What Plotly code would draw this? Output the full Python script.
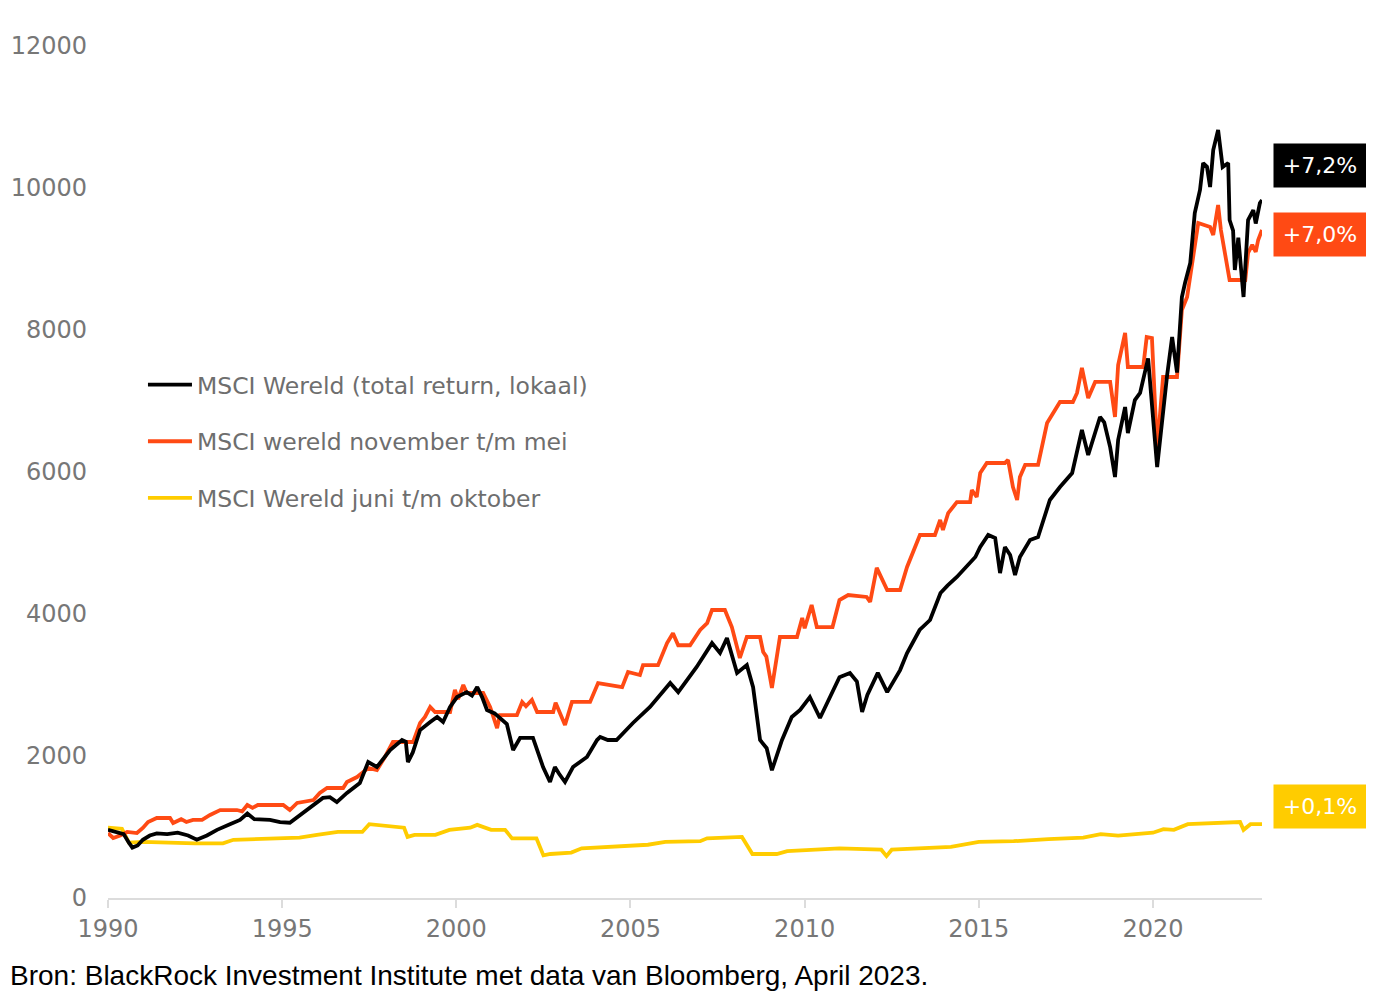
import plotly.graph_objects as go

# ---------------- data ----------------
black_x = [1990.00, 1990.30, 1990.45, 1990.60, 1990.70, 1990.85, 1991.00, 1991.20, 1991.40, 1991.70,
           1992.00, 1992.30, 1992.55, 1992.84, 1993.13, 1993.50, 1993.79, 1994.00, 1994.20, 1994.65,
           1994.94, 1995.22, 1995.60, 1996.00, 1996.17, 1996.37, 1996.57, 1996.86, 1997.23, 1997.47,
           1997.72, 1998.10, 1998.44, 1998.55, 1998.61, 1998.75, 1998.96, 1999.25, 1999.45, 1999.62,
           1999.82, 2000.02, 2000.30, 2000.45, 2000.60, 2000.74, 2000.88, 2001.10, 2001.25, 2001.45,
           2001.63, 2001.83, 2002.20, 2002.49, 2002.69, 2002.83, 2002.95, 2003.12, 2003.35, 2003.75,
           2004.04, 2004.13, 2004.35, 2004.60, 2005.07, 2005.56, 2006.14, 2006.37, 2006.90, 2007.34,
           2007.57, 2007.77, 2008.06, 2008.34, 2008.52, 2008.72, 2008.91, 2009.06, 2009.35, 2009.63,
           2009.87, 2010.15, 2010.44, 2010.73, 2011.00, 2011.30, 2011.50, 2011.65, 2011.80, 2012.10,
           2012.37, 2012.74, 2012.94, 2013.30, 2013.60, 2013.90, 2014.10, 2014.37, 2014.75, 2014.90,
           2015.04, 2015.27, 2015.47, 2015.61, 2015.75, 2015.90, 2016.04, 2016.18, 2016.47, 2016.70,
           2017.04, 2017.33, 2017.68, 2017.82, 2017.96, 2018.14, 2018.48, 2018.60, 2018.77, 2018.91,
           2019.00, 2019.20, 2019.28, 2019.48, 2019.63, 2019.86, 2020.12, 2020.40, 2020.55, 2020.69,
           2020.83, 2020.92, 2021.07, 2021.20, 2021.35, 2021.44, 2021.55, 2021.64, 2021.73, 2021.87,
           2022.00, 2022.16, 2022.20, 2022.30, 2022.35, 2022.45, 2022.60, 2022.73, 2022.88, 2022.95,
           2023.07, 2023.13]
black_y = [960, 920, 900, 780, 710, 740, 820, 880, 910, 900,
           920, 880, 820, 880, 960, 1040, 1100, 1190, 1110, 1100,
           1070, 1060, 1200, 1340, 1410, 1420, 1350, 1480, 1620, 1915,
           1845, 2085, 2225, 2200, 1915, 2050, 2366, 2479, 2550, 2479,
           2690, 2830, 2900, 2850, 2972, 2830, 2648, 2600, 2535, 2450,
           2085, 2254, 2254, 1845, 1634, 1845, 1750, 1634, 1845, 1986,
           2225, 2268, 2225, 2225, 2465, 2690, 3028, 2900, 3254, 3590,
           3450, 3660, 3170, 3280, 2970, 2225, 2110, 1800, 2225, 2550,
           2650, 2830, 2535, 2830, 3110, 3170, 3050, 2620, 2860, 3170,
           2900, 3210, 3450, 3775, 3915, 4295, 4400, 4521, 4718, 4803,
           4944, 5113, 5070, 4577, 4944, 4831, 4549, 4803, 5042, 5084,
           5606, 5789, 5986, 6282, 6592, 6239, 6775, 6700, 6352, 5930,
           6451, 6915, 6549, 7014, 7113, 7600, 6070, 7338, 7901, 7400,
           8465, 8662, 8944, 9648, 9972, 10352, 10300, 10014, 10535, 10817,
           10296, 10352, 9549, 9400, 8845, 9300, 8465, 9549, 9690, 9500,
           9789, 9831]

orange_x = [1990.00, 1990.15, 1990.35, 1990.55, 1990.83, 1991.00, 1991.15, 1991.40, 1991.78, 1991.87,
            1992.10, 1992.25, 1992.44, 1992.70, 1992.93, 1993.22, 1993.70, 1993.85, 1994.00, 1994.15,
            1994.30, 1995.03, 1995.22, 1995.43, 1995.90, 1996.08, 1996.29, 1996.75, 1996.86, 1997.15,
            1997.47, 1997.72, 1997.95, 1998.18, 1998.76, 1998.96, 1999.10, 1999.25, 1999.39, 1999.82,
            1999.96, 2000.05, 2000.20, 2000.30, 2000.77, 2000.97, 2001.17, 2001.25, 2001.74, 2001.89,
            2002.00, 2002.17, 2002.32, 2002.78, 2002.85, 2003.12, 2003.32, 2003.84, 2004.07, 2004.76,
            2004.93, 2005.27, 2005.36, 2005.79, 2006.05, 2006.22, 2006.37, 2006.71, 2007.00, 2007.20,
            2007.34, 2007.71, 2007.91, 2008.14, 2008.34, 2008.72, 2008.81, 2008.90, 2009.06, 2009.29,
            2009.78, 2009.93, 2010.00, 2010.20, 2010.35, 2010.80, 2011.00, 2011.25, 2011.78, 2011.88,
            2012.07, 2012.20, 2012.37, 2012.74, 2012.94, 2013.31, 2013.74, 2013.89, 2013.97, 2014.12,
            2014.37, 2014.75, 2014.80, 2014.94, 2015.04, 2015.23, 2015.75, 2015.84, 2015.98, 2016.10,
            2016.18, 2016.33, 2016.70, 2016.96, 2017.33, 2017.70, 2017.82, 2017.96, 2018.14, 2018.34,
            2018.77, 2018.91, 2019.00, 2019.20, 2019.28, 2019.72, 2019.82, 2019.97, 2020.12, 2020.29,
            2020.69, 2020.83, 2020.98, 2021.30, 2021.64, 2021.73, 2021.87, 2021.95, 2022.07, 2022.20,
            2022.65, 2022.73, 2022.85, 2022.95, 2023.02, 2023.13]
orange_y = [915, 845, 880, 930, 915, 986, 1070, 1127, 1127, 1056,
            1110, 1070, 1099, 1099, 1169, 1239, 1239, 1220, 1310, 1270,
            1310, 1310, 1239, 1338, 1380, 1479, 1549, 1549, 1634, 1704,
            1831, 1803, 1986, 2197, 2197, 2465, 2550, 2690, 2620, 2620,
            2930, 2800, 3000, 2887, 2887, 2690, 2394, 2577, 2577, 2761,
            2700, 2789, 2620, 2620, 2750, 2437, 2761, 2761, 3028, 2970,
            3183, 3140, 3280, 3280, 3590, 3730, 3560, 3560, 3775, 3870,
            4056, 4056, 3816, 3380, 3676, 3676, 3465, 3400, 2958, 3676,
            3676, 3944, 3800, 4127, 3816, 3816, 4197, 4267, 4240, 4169,
            4650, 4500, 4338, 4338, 4662, 5113, 5113, 5324, 5183, 5420,
            5577, 5577, 5746, 5648, 5986, 6127, 6127, 6169, 5789, 5606,
            5930, 6099, 6099, 6690, 6986, 6986, 7113, 7465, 7042, 7268,
            7268, 6775, 7507, 7958, 7479, 7479, 7901, 7887, 6310, 7338,
            7338, 8282, 8465, 9507, 9451, 9338, 9761, 9408, 9085, 8704,
            8704, 9085, 9200, 9100, 9268, 9408]

yellow_x = [1990.00, 1990.40, 1990.60, 1991.00, 1992.50, 1993.30, 1993.60, 1994.50, 1995.50, 1996.00,
            1996.60, 1997.30, 1997.50, 1998.50, 1998.60, 1998.80, 1999.40, 1999.80, 2000.40, 2000.60,
            2001.00, 2001.40, 2001.60, 2002.30, 2002.50, 2002.70, 2003.30, 2003.60, 2004.50, 2005.50,
            2006.00, 2007.00, 2007.20, 2008.20, 2008.50, 2009.20, 2009.50, 2010.50, 2011.00, 2012.20,
            2012.35, 2012.50, 2013.50, 2014.20, 2015.00, 2016.00, 2017.00, 2018.00, 2018.50, 2019.00,
            2019.50, 2020.00, 2020.30, 2020.60, 2021.00, 2021.50, 2022.00, 2022.50, 2022.60, 2022.80,
            2023.13]
yellow_y = [990, 975, 780, 790, 770, 770, 820, 840, 850, 890,
            930, 930, 1040, 990, 860, 890, 890, 960, 990, 1030,
            960, 960, 840, 840, 600, 620, 640, 700, 720, 750,
            790, 800, 840, 860, 620, 620, 660, 680, 700, 680,
            590, 680, 700, 720, 790, 800, 830, 850, 900, 880,
            900, 920, 970, 960, 1040, 1050, 1060, 1070, 960, 1040,
            1040]

series_names = ["MSCI Wereld (total return, lokaal)",
                "MSCI wereld november t/m mei",
                "MSCI Wereld juni t/m oktober"]
end_labels = ["+7,2%", "+7,0%", "+0,1%"]
x_ticks = [1990, 1995, 2000, 2005, 2010, 2015, 2020]
y_ticks = [0, 2000, 4000, 6000, 8000, 10000, 12000]
source_text = "Bron: BlackRock Investment Institute met data van Bloomberg, April 2023."

# ---------------- styling ----------------
colors = ["#000000", "#ff4a14", "#ffcc00"]
label_y = [10320, 9340, 1285]
draw_order = [2, 1, 0]          # yellow underneath, black on top
tick_font = dict(family="DejaVu Sans", size=24, color="#777777")

fig = go.Figure()
for i in draw_order:
    xs = [black_x, orange_x, yellow_x][i]
    ys = [black_y, orange_y, yellow_y][i]
    fig.add_trace(go.Scatter(x=xs, y=ys, mode="lines", name=series_names[i],
                             legendgroup=series_names[i], legendrank=i + 1,
                             line=dict(color=colors[i], width=3.8), hoverinfo="skip"))

for txt, yv, c in zip(end_labels, label_y, colors):
    fig.add_annotation(x=1.0095, xref="paper", y=yv, yref="y", xanchor="left", yanchor="middle",
                       text=txt, showarrow=False, bgcolor=c, width=74,
                       font=dict(family="DejaVu Sans", size=22, color="#ffffff"),
                       borderpad=9)

fig.add_annotation(x=-0.0867, xref="paper", y=-0.0915, yref="paper", xanchor="left", yanchor="middle",
                   text=source_text, showarrow=False,
                   font=dict(family="Liberation Sans", size=28, color="#000000"))

# page body adds an 8px offset, so the figure is 8px smaller and margins shifted accordingly
fig.update_layout(
    width=1366, height=988,
    margin=dict(l=100, r=112, t=38, b=98, autoexpand=False),
    paper_bgcolor="white", plot_bgcolor="white",
    showlegend=True,
    legend=dict(x=0.0303, y=0.628, xanchor="left", yanchor="top",
                traceorder="grouped", tracegroupgap=23,
                font=dict(family="DejaVu Sans", size=23.5, color="#6e6e6e"),
                bgcolor="rgba(0,0,0,0)", itemwidth=44),
    xaxis=dict(range=[1990, 2023.13], tickvals=x_ticks, ticktext=[str(t) for t in x_ticks],
               showgrid=False, zeroline=False, showline=True, linecolor="#dcdcdc", linewidth=2,
               ticks="outside", ticklen=8, tickcolor="#dcdcdc", tickwidth=1.5,
               tickfont=tick_font, automargin=False),
    yaxis=dict(range=[0, 12000], tickvals=y_ticks, ticktext=[str(t) for t in y_ticks],
               showgrid=False, zeroline=False, showline=False, ticks="",
               ticklabelstandoff=20, tickfont=tick_font, automargin=False),
)

fig.write_html("out.html")
